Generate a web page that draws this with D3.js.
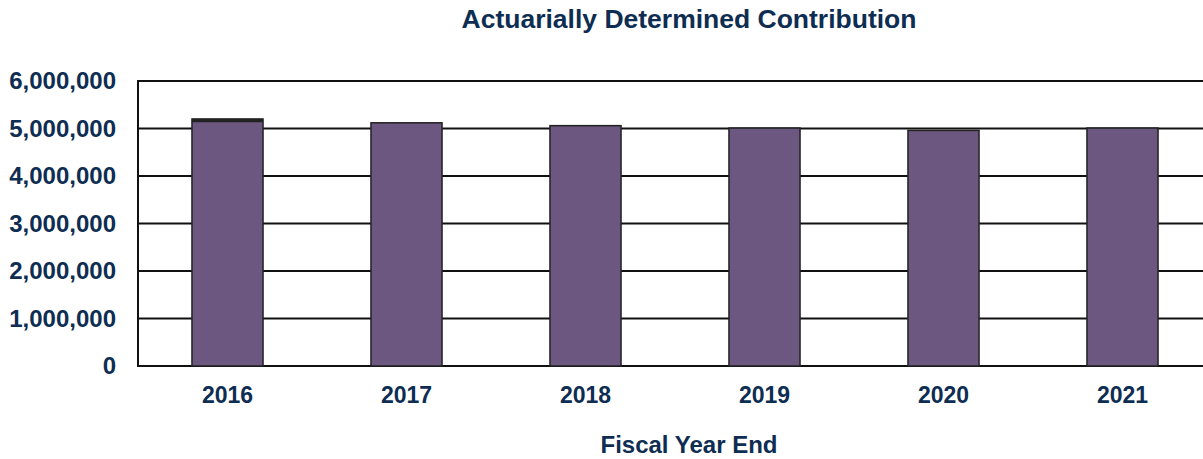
<!DOCTYPE html>
<html>
<head>
<meta charset="utf-8">
<script src="https://cdn.jsdelivr.net/npm/d3@7"></script>
<style>
  html, body { margin: 0; padding: 0; background: #ffffff; }
  text { font-family: "Liberation Sans", Arial, sans-serif; font-weight: bold; fill: #0e2d52; }
</style>
</head>
<body>
<svg id="chart" width="1203" height="459"></svg>
<script>
// Actuarially determined contribution by fiscal year end
const years = ["2016", "2017", "2018", "2019", "2020", "2021"];
const contributions = [5200000, 5120000, 5060000, 5010000, 4960000, 5010000];
const yTicks = [0, 1000000, 2000000, 3000000, 4000000, 5000000, 6000000];

const svg = d3.select("#chart");
const margin = { left: 138, top: 81, right: -9, bottom: 92 };
const W = 1203, H = 459;

const x = d3.scaleBand()
  .domain(years)
  .range([margin.left, W - margin.right])
  .paddingInner(0.603)
  .paddingOuter(0.3015);

const y = d3.scaleLinear()
  .domain([0, 6000000])
  .range([H - margin.bottom - 1, margin.top]);

// horizontal gridlines
svg.append("g")
  .selectAll("line")
  .data(yTicks)
  .join("line")
  .attr("x1", margin.left)
  .attr("x2", W - margin.right)
  .attr("y1", d => y(d))
  .attr("y2", d => y(d))
  .attr("stroke", "#111")
  .attr("stroke-width", 2);

// left frame edge
svg.append("line")
  .attr("x1", margin.left).attr("x2", margin.left)
  .attr("y1", y(6000000) - 1).attr("y2", y(0) + 1)
  .attr("stroke", "#111").attr("stroke-width", 2);

// bars
svg.append("g")
  .selectAll("rect")
  .data(years.map((yr, i) => ({ yr, v: contributions[i] })))
  .join("rect")
  .attr("x", d => x(d.yr))
  .attr("y", d => y(d.v))
  .attr("width", x.bandwidth())
  .attr("height", d => y(0) - y(d.v))
  .attr("fill", "#6b577f")
  .attr("stroke", "#222")
  .attr("stroke-width", 1.5);

// dark cap on the first bar
svg.append("line")
  .attr("x1", x(years[0]))
  .attr("x2", x(years[0]) + x.bandwidth())
  .attr("y1", y(contributions[0]) + 1.5)
  .attr("y2", y(contributions[0]) + 1.5)
  .attr("stroke", "#222").attr("stroke-width", 3.5);

// y axis labels
const yAxis = d3.axisLeft(y)
  .tickValues(yTicks)
  .tickFormat(d3.format(","))
  .tickSize(0)
  .tickPadding(22);
const gy = svg.append("g")
  .attr("transform", `translate(${margin.left},0)`)
  .call(yAxis);
gy.select(".domain").remove();
gy.selectAll("text").attr("font-size", 24).attr("font-family", null).attr("fill", null);

// x axis labels
const xAxis = d3.axisBottom(x).tickSize(0).tickPadding(21);
const gx = svg.append("g")
  .attr("transform", `translate(0,${y(0)})`)
  .call(xAxis);
gx.select(".domain").remove();
gx.selectAll("text").attr("font-size", 23).attr("font-family", null).attr("fill", null);

// title
svg.append("text")
  .attr("x", 689).attr("y", 28)
  .attr("text-anchor", "middle")
  .attr("font-size", 26.5)
  .text("Actuarially Determined Contribution");

// x axis title
svg.append("text")
  .attr("x", 689).attr("y", 453)
  .attr("text-anchor", "middle")
  .attr("font-size", 24)
  .text("Fiscal Year End");
</script>
</body>
</html>
